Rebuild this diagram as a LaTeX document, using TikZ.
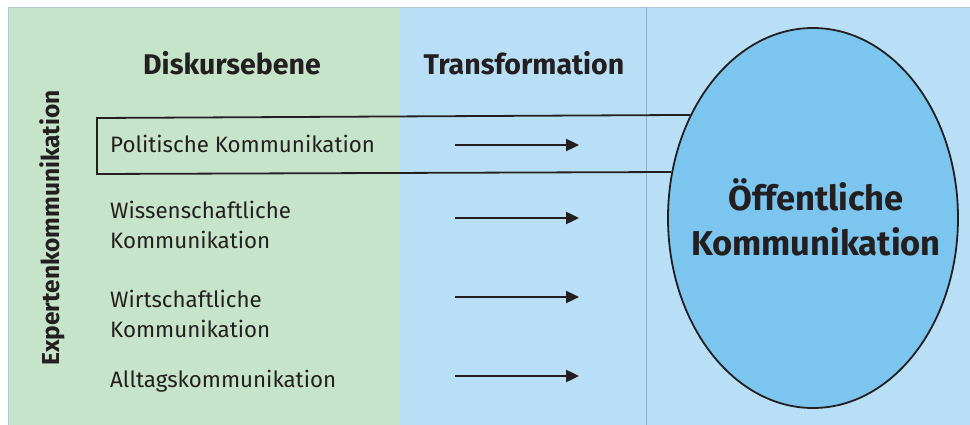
\documentclass[tikz,border=0pt]{standalone}
\usepackage{fontspec}
\setmainfont{Fira Sans}
\usetikzlibrary{shapes.geometric,arrows.meta}
\definecolor{panelgreen}{HTML}{C6E4C9}
\definecolor{panelblue}{HTML}{B8DFF6}
\definecolor{ellblue}{HTML}{7CC5EE}
\definecolor{divline}{HTML}{8EAFC6}
\definecolor{txt}{HTML}{231F20}
\begin{document}
\begin{tikzpicture}[x=1pt,y=-1pt,
  head/.style={font=\fontsize{28.5}{32}\selectfont\bfseries, text=txt, inner sep=0pt},
  item/.style={font=\fontsize{22.3}{30}\selectfont, text=txt, inner sep=0pt, anchor=base west, align=left},
  arr/.style={line width=2.4pt, draw=txt, -{Triangle[length=13pt,width=12pt]}},
  boxline/.style={line width=1.8pt, draw=txt}]
\useasboundingbox (0,0) rectangle (970,425);
\fill[white] (0,0) rectangle (970,425);
\fill[panelgreen] (8,7) rectangle (400,425);
\fill[panelblue] (400,7) rectangle (970,425);
\draw[divline!70, line width=0.8pt] (8,425) -- (8,7) -- (970,7);
\draw[divline, line width=1pt] (646,7) -- (646,425);

\node[head] (h1) at (232,63) {Diskursebene};
\node[head] (h2) at (524,63) {Transformation};

\node[rotate=90, font=\fontsize{24.5}{28}\selectfont\bfseries, text=txt, inner sep=0pt] (ek) at (52,228) {Expertenkommunikation};

\node[item] (t1) at (110,153) {Politische Kommunikation};
\node[item] (t2) at (110,248) {Wissenschaftliche\\Kommunikation};
\node[item] (t3) at (110,337) {Wirtschaftliche\\Kommunikation};
\node[item] (t4) at (110,387) {Alltagskommunikation};

\foreach \i/\y in {1/145,2/218,3/297,4/376}{
  \coordinate (s\i) at (455,\y);
  \coordinate (e\i) at (579,\y);
  \draw[arr] (s\i) -- (e\i);
}

\node[ellipse, draw=txt, line width=1.8pt, fill=ellblue, minimum width=290, minimum height=380, inner sep=0pt] (ell) at (813,218) {};
\draw[boxline] (ell.140.5) -- (97,118) -- (97,174) -- (ell.162.5);
\node[font=\fontsize{34.5}{45}\selectfont\bfseries, text=txt, align=center, inner sep=0pt] (ot) at (816,217) {Öffentliche\\Kommunikation};
\end{tikzpicture}
\end{document}
